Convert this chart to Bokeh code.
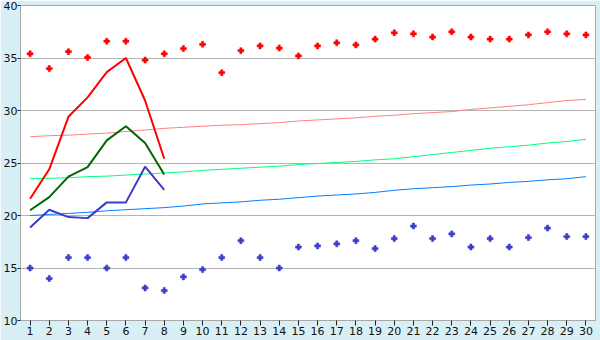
from bokeh.plotting import figure
from bokeh.embed import file_html
from bokeh.resources import INLINE
from bokeh.models import FixedTicker, Range1d

days = list(range(1, 31))

# record highs (red markers) and record lows (blue markers)
record_high = [35.4, 34.0, 35.6, 35.05, 36.6, 36.6, 34.8, 35.4, 35.9, 36.3,
               33.6, 35.7, 36.15, 35.95, 35.2, 36.15, 36.45, 36.25, 36.8, 37.4,
               37.3, 37.0, 37.5, 37.0, 36.8, 36.8, 37.2, 37.5, 37.3, 37.2]
record_low = [15.0, 14.0, 16.0, 16.0, 15.0, 16.0, 13.1, 12.85, 14.15, 14.85,
              16.0, 17.6, 16.0, 15.0, 17.0, 17.1, 17.3, 17.6, 16.85, 17.8,
              19.0, 17.8, 18.25, 17.0, 17.8, 17.0, 17.9, 18.8, 18.0, 18.0]

# normals (thin lines)
normal_high = [27.5, 27.6, 27.65, 27.75, 27.85, 28.0, 28.15, 28.3, 28.4, 28.5,
               28.6, 28.65, 28.75, 28.85, 29.0, 29.1, 29.2, 29.3, 29.45, 29.55,
               29.7, 29.8, 29.9, 30.1, 30.25, 30.4, 30.55, 30.75, 30.95, 31.05]
normal_mean = [23.5, 23.55, 23.6, 23.7, 23.75, 23.85, 23.95, 24.05, 24.15, 24.3,
               24.4, 24.5, 24.6, 24.7, 24.85, 24.95, 25.05, 25.15, 25.3, 25.4,
               25.6, 25.8, 26.0, 26.2, 26.4, 26.55, 26.7, 26.9, 27.05, 27.25]
normal_low = [20.0, 20.1, 20.2, 20.3, 20.45, 20.55, 20.65, 20.75, 20.9, 21.1,
              21.2, 21.3, 21.45, 21.55, 21.7, 21.85, 21.95, 22.05, 22.2, 22.4,
              22.55, 22.65, 22.75, 22.9, 23.0, 23.15, 23.25, 23.4, 23.5, 23.7]

# observed (thick lines, first 8 days)
obs_days = [1, 2, 3, 4, 5, 6, 7, 8]
obs_high = [21.6, 24.4, 29.4, 31.25, 33.65, 35.0, 30.95, 25.4]
obs_mean = [20.5, 21.75, 23.7, 24.6, 27.15, 28.5, 26.9, 23.9]
obs_low = [18.85, 20.55, 19.85, 19.75, 21.25, 21.25, 24.65, 22.45]

y_ticks = [10, 15, 20, 25, 30, 35, 40]
x_ticks = days

BG = "#d9eff6"
FONT = "DejaVu Sans"

p = figure(width=600, height=340, output_backend="svg", toolbar_location=None,
           x_range=Range1d(0.5, 30.5), y_range=Range1d(10, 40),
           background_fill_color="white", border_fill_color=BG,
           min_border_left=0, min_border_right=5, min_border_top=5, min_border_bottom=20)

p.outline_line_color = "#a8a8a8"
p.outline_line_width = 1

p.xgrid.grid_line_color = None
p.ygrid.grid_line_color = "#b4b4b4"
p.ygrid.grid_line_width = 1

for ax in (p.xaxis[0], p.yaxis[0]):
    ax.axis_line_color = "#a8a8a8"
    ax.major_tick_line_color = "#222222"
    ax.minor_tick_line_color = None
    ax.major_tick_in = 0
    ax.major_label_text_font = FONT
    ax.major_label_text_font_size = "11px"
    ax.major_label_text_color = "#111111"

p.xaxis[0].ticker = FixedTicker(ticks=x_ticks)
p.xaxis[0].major_tick_out = 5
p.xaxis[0].major_label_standoff = 1
p.yaxis[0].ticker = FixedTicker(ticks=y_ticks)
p.yaxis[0].major_tick_out = 3
p.yaxis[0].major_label_standoff = 0

# normals
p.line(days, normal_high, line_color="#ff8080", line_width=1)
p.line(days, normal_mean, line_color="#00ff80", line_width=1)
p.line(days, normal_low, line_color="#0080ff", line_width=1)

# observed
p.line(obs_days, obs_high, line_color="#ff0000", line_width=2)
p.line(obs_days, obs_mean, line_color="#006600", line_width=2)
p.line(obs_days, obs_low, line_color="#3c3ccc", line_width=2)

# records
p.scatter(days, record_high, marker="plus", size=6, fill_color="#ff0000", line_color="#ff0000", line_width=0.5)
p.scatter(days, record_low, marker="plus", size=6, fill_color="#3c3ccc", line_color="#3c3ccc", line_width=0.5)

open("out.html", "w").write(file_html(p, INLINE))
